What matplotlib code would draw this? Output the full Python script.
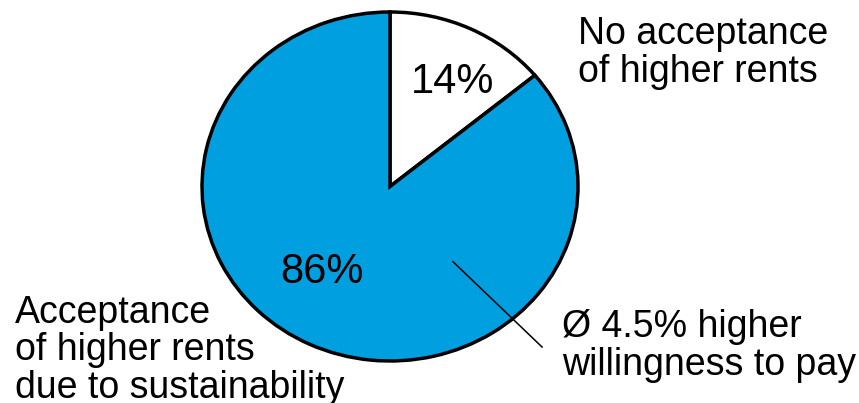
import matplotlib
matplotlib.use("Agg")
import matplotlib.pyplot as plt

plt.rcParams['font.family'] = ['Liberation Sans', 'DejaVu Sans']

# data
shares = [14, 86]
share_labels = ['14%', '86%']
colors = ['white', '#009FE0']
cat_labels = ['No acceptance\nof higher rents',
              'Acceptance\nof higher rents\ndue to sustainability']
note = 'Ø 4.5% higher\nwillingness to pay'

W, H = 859, 403
fig = plt.figure(figsize=(W / 100, H / 100), dpi=100)
# pie is slightly squashed in the original, so use a non-square axes
ax = fig.add_axes([202 / W, 42 / H, 376 / W, 349 / H])
ax.pie(shares, colors=colors, startangle=90, counterclock=False,
       wedgeprops=dict(edgecolor='black', linewidth=2.5))
ax.set_aspect('auto')
ax.set_xlim(-1, 1)
ax.set_ylim(-1, 1)
ax.axis('off')

# percentages inside the slices
ax.text(0.335, 0.60, share_labels[0], fontsize=30, ha='center', va='center')
ax.text(-0.36, -0.49, share_labels[1], fontsize=30, ha='center', va='center')

# pointer line for the note
ax.plot([0.335, 0.809], [-0.431, -0.92], color='black', lw=1.1, clip_on=False)


def px(x, y):
    return x / W, 1 - y / H


# va='baseline' -> y is the baseline of the last line
fig.text(*px(578, 82), cat_labels[0], fontsize=27, ha='left', va='baseline',
         linespacing=1.06)
fig.text(*px(15, 398), cat_labels[1], fontsize=27, ha='left', va='baseline',
         linespacing=1.06)
fig.text(*px(562, 375), note, fontsize=27, ha='left', va='baseline',
         linespacing=1.06)

fig.savefig('out.png', dpi=100)
